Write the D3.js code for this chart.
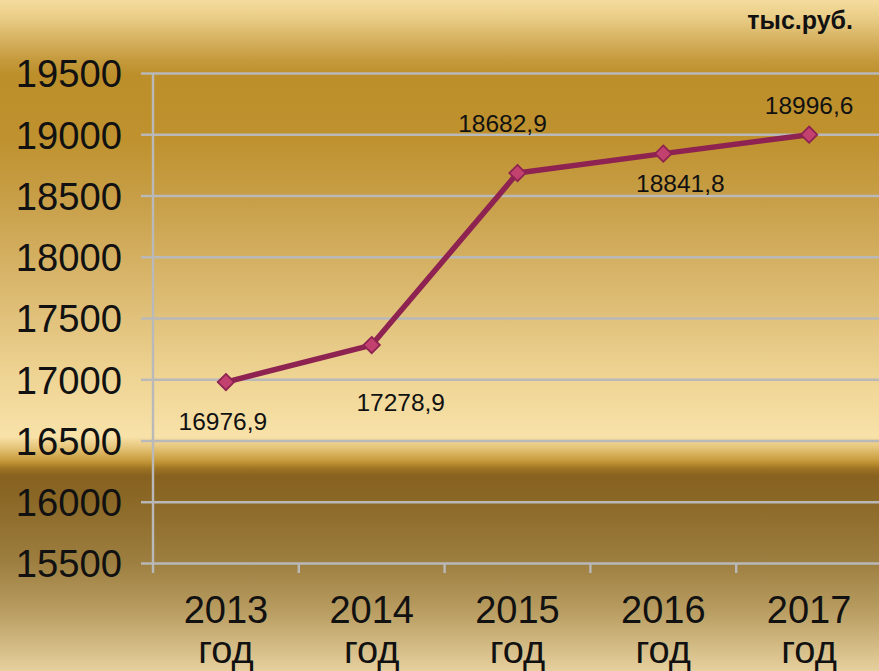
<!DOCTYPE html>
<html><head><meta charset="utf-8">
<script src="https://cdn.jsdelivr.net/npm/d3@7"></script>
<style>html,body{margin:0;padding:0;background:#fff;}svg{display:block;}</style>
</head><body>
<script>
const years = ["2013", "2014", "2015", "2016", "2017"];
const yearSuffix = "год";
const values = [16976.9, 17278.9, 18682.9, 18841.8, 18996.6];
const valueLabels = ["16976,9", "17278,9", "18682,9", "18841,8", "18996,6"];
const yTicks = [15500, 16000, 16500, 17000, 17500, 18000, 18500, 19000, 19500];
const unitLabel = "тыс.руб.";

// label placement offsets (dx, dy) relative to each point
const labelOffsets = [[-3, 39], [29, 57], [-15, -50], [17, 30], [0, -29]];

const W = 879, H = 671;
const svg = d3.select("body").append("svg").attr("width", W).attr("height", H);
const defs = svg.append("defs");
const grad = defs.append("linearGradient").attr("id", "bg").attr("x1", 0).attr("y1", 0).attr("x2", 0).attr("y2", 1);
const stops = [
  [0, "#f5dc9e"], [18, "#e9cd86"], [40, "#d6b160"], [60, "#c59a3c"], [75, "#bc8f2b"],
  [140, "#bf922f"], [200, "#c89f48"], [260, "#d4b062"], [320, "#e1c27c"], [380, "#efd595"],
  [437, "#f8e2a9"], [441, "#f0d595"], [447, "#e6c67d"], [453, "#d9b35f"], [459, "#cba043"],
  [464, "#b88b2e"], [469, "#9c7223"], [476, "#87611f"], [500, "#8b6826"], [563, "#9d7f41"],
  [610, "#b89c60"], [671, "#e6d09e"]
];
stops.forEach(s => grad.append("stop").attr("offset", (s[0] / H)).attr("stop-color", s[1]));
svg.append("rect").attr("width", W).attr("height", H).attr("fill", "url(#bg)");

const x = d3.scaleBand().domain(years).range([153, 882]);
const y = d3.scaleLinear().domain([15500, 19500]).range([563, 73]);
const gridColor = "#b9b9b9";
const font = "Liberation Sans, Arial, sans-serif";

// gridlines + y ticks
const yAxis = d3.axisLeft(y).tickValues(yTicks).tickSize(12).tickFormat(d => d);
const gy = svg.append("g").attr("transform", "translate(153,0)").call(yAxis);
gy.select(".domain").remove();
gy.selectAll(".tick line").attr("stroke", gridColor).attr("stroke-width", 2.4).attr("x2", -12)
  .clone().attr("x1", 0).attr("x2", W);
gy.selectAll(".tick text").attr("x", -31).attr("dy", "0.36em")
  .attr("font-family", font).attr("font-size", 38.2).attr("fill", "#111");

// y axis line
svg.append("line").attr("x1", 153).attr("x2", 153).attr("y1", 73).attr("y2", 573)
  .attr("stroke", gridColor).attr("stroke-width", 2.4);

// x axis ticks at band boundaries
const gx = svg.append("g").attr("transform", "translate(0,563)");
gx.selectAll("line.bt").data(years.slice(1)).join("line").attr("class", "bt")
  .attr("x1", d => x(d)).attr("x2", d => x(d)).attr("y1", 0).attr("y2", 10)
  .attr("stroke", gridColor).attr("stroke-width", 2.4);

// x labels
const xl = svg.append("g").selectAll("text").data(years).join("text")
  .attr("x", d => x(d) + x.bandwidth() / 2).attr("text-anchor", "middle")
  .attr("font-family", font).attr("font-size", 38).attr("fill", "#111");
xl.append("tspan").attr("x", d => x(d) + x.bandwidth() / 2).attr("y", 623).text(d => d);
xl.append("tspan").attr("x", d => x(d) + x.bandwidth() / 2).attr("y", 663).text(yearSuffix);

// line
const pts = years.map((yr, i) => ({ yr, v: values[i], lbl: valueLabels[i], off: labelOffsets[i] }));
const cx = d => x(d.yr) + x.bandwidth() / 2;
svg.append("path").datum(pts)
  .attr("d", d3.line().x(cx).y(d => y(d.v)))
  .attr("fill", "none").attr("stroke", "#8e2352").attr("stroke-width", 5.5).attr("stroke-linejoin", "round");

// markers
svg.append("g").selectAll("path").data(pts).join("path")
  .attr("d", d3.symbol().type(d3.symbolDiamond2).size(170))
  .attr("transform", d => `translate(${cx(d)},${y(d.v)})`)
  .attr("fill", "#c2416f").attr("stroke", "#8e2352").attr("stroke-width", 1.8);

// value labels
svg.append("g").selectAll("text").data(pts).join("text")
  .attr("x", d => cx(d) + d.off[0]).attr("y", d => y(d.v) + d.off[1])
  .attr("dy", "0.35em").attr("text-anchor", "middle")
  .attr("font-family", font).attr("font-size", 24.5).attr("fill", "#111")
  .text(d => d.lbl);

// unit label
svg.append("text").attr("x", 853).attr("y", 29).attr("text-anchor", "end")
  .attr("font-family", font).attr("font-weight", "bold").attr("font-size", 25)
  .attr("fill", "#111").text(unitLabel);
</script>
</body></html>
